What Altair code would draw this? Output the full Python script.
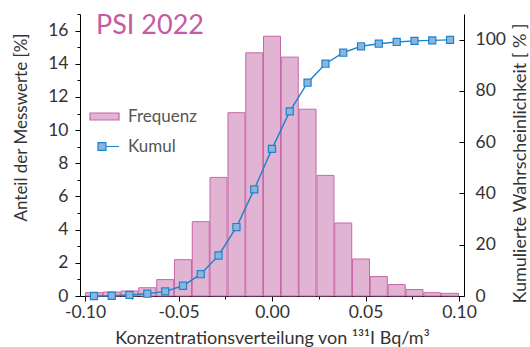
import json
import altair as alt
import pandas as pd

# ---- data ----
centers = [-0.0952, -0.0857, -0.0762, -0.0667, -0.0571, -0.0476, -0.0381,
           -0.0286, -0.0190, -0.0095, 0.0, 0.0095, 0.0190, 0.0286, 0.0381,
           0.0476, 0.0571, 0.0667, 0.0762, 0.0857, 0.0952]
freq = [0.20, 0.24, 0.30, 0.50, 0.99, 2.19, 4.48, 7.15, 11.05, 14.66, 15.66,
        14.40, 11.26, 7.27, 4.40, 2.23, 1.17, 0.69, 0.39, 0.20, 0.16]
kumul = [0.0, 0.1, 0.4, 0.9, 1.8, 4.0, 8.5, 15.8, 26.9, 41.6, 57.4, 72.0,
         83.2, 90.6, 94.9, 97.4, 98.4, 99.1, 99.5, 99.7, 99.9]
series = ["Frequenz", "Kumul"]

x_ticks = [-0.1, -0.075, -0.05, -0.025, 0.0, 0.025, 0.05, 0.075, 0.1]
x_labels = ["-0.10", "", "-0.05", "", "0.00", "", "0.05", "", "0.10"]
yl_ticks = list(range(0, 18))
yr_ticks = list(range(0, 111, 10))

FONT = "Lato"
TXT = "#333333"
PINK_FILL = "#E0B4D2"
PINK_STROKE = "#C866A8"
BLUE = "#1A85CC"
BLUE_FILL = "#8DB4DF"

bars_df = pd.DataFrame({"x": centers, "f": freq, "series": series[0]})
kum_df = pd.DataFrame({"x": centers, "k": kumul, "series": series[1]})

rect_path = "M-1,-0.24H1V0.24H-1Z"
kum_path = "M-0.45,-0.27H0.1V0.27H-0.45Z M0.1,0H1"

leg_scale_fill = alt.Scale(domain=series, range=[PINK_FILL, BLUE_FILL])
leg_scale_stroke = alt.Scale(domain=series, range=[PINK_STROKE, BLUE])
leg_scale_shape = alt.Scale(domain=series, range=[rect_path, kum_path])

legend = alt.Legend(
    title=None, orient="none", legendX=9, legendY=87, symbolSize=841,
    symbolStrokeWidth=1.2, labelFont=FONT, labelFontSize=17,
    labelColor="#555555", labelOffset=8, rowPadding=6, padding=0,
)


def cond_idx(n):
    return {"condition": {"test": f"round(datum.index*{n}) % 2 == 1", "value": 3}, "value": 5}


def cond_val(step):
    return {"condition": {"test": f"round(datum.value/{step}) % 2 == 1", "value": 3}, "value": 5}


x_enc = alt.X(
    "x:Q",
    scale=alt.Scale(domain=[-0.1, 0.1], nice=False, zero=False),
    axis=alt.Axis(
        values=x_ticks, labelExpr=f"{json.dumps(x_labels)}[round(datum.index*8)]",
        tickSize=cond_idx(8),
        title="Konzentrationsverteilung von ¹³¹I Bq/m³", titleFontSize=18,
        titleFont=FONT, titleFontWeight="normal", titleColor=TXT, titlePadding=9,
        labelFont=FONT, labelFontSize=17.5, labelColor=TXT, labelPadding=2,
        domainColor="black", tickColor="black", grid=False, labelFlush=False,
        labelOverlap=False,
    ),
)

bars = alt.Chart(bars_df).mark_bar(size=17, strokeWidth=1).encode(
    x=x_enc,
    y=alt.Y(
        "f:Q", scale=alt.Scale(domain=[0, 17], nice=False),
        axis=alt.Axis(
            values=yl_ticks,
            labelExpr="(round(datum.value) % 2 == 0 && datum.value <= 16) ? datum.label : ''",
            tickSize=cond_val(1),
            title="Anteil der Messwerte [%]", titleFont=FONT, titleFontSize=17,
            titleFontWeight="normal", titleColor=TXT,
            titleX=-59, titleY=113, titleAngle=-90, titleBaseline="middle",
            titleAlign="center",
            labelFont=FONT, labelFontSize=17.5, labelColor=TXT, labelPadding=7,
            domainColor="black", tickColor="black", grid=False,
            labelOverlap=False,
        ),
    ),
    fill=alt.Fill("series:N", scale=leg_scale_fill, legend=legend),
    stroke=alt.Stroke("series:N", scale=leg_scale_stroke, legend=legend),
)

line = alt.Chart(kum_df).mark_line(color=BLUE, strokeWidth=1.4).encode(
    x="x:Q",
    y=alt.Y(
        "k:Q", scale=alt.Scale(domain=[0, 110], nice=False),
        axis=alt.Axis(
            orient="left", offset=-384, values=yr_ticks,
            labelExpr="(round(datum.value) % 20 == 0 && datum.value <= 100) ? datum.label : ''",
            tickSize=cond_val(10), labelAlign="left",
            labelPadding=-16, labelOverlap=False, labelBound=False,
            title="Kumulierte Wahrscheinlichkeit [ % ]", titleFont=FONT,
            titleFontSize=18, titleFontWeight="normal", titleColor=TXT,
            titleX=56, titleY=149, titleAngle=-90, titleBaseline="middle",
            titleAlign="center",
            labelFont=FONT, labelFontSize=17.5, labelColor=TXT,
            domainColor="black", tickColor="black", grid=False,
        ),
    ),
)

points = alt.Chart(kum_df).mark_point(
    filled=True, shape="square", size=50, strokeWidth=1.2, opacity=1,
    fill=BLUE_FILL, stroke=BLUE,
).encode(x="x:Q", y="k:Q")

legend_only = alt.Chart(kum_df).transform_filter("false").mark_point(
    filled=True, strokeWidth=1.2, opacity=1
).encode(
    x="x:Q",
    y="k:Q",
    shape=alt.Shape("series:N", scale=leg_scale_shape, legend=legend),
    fill=alt.Fill("series:N", scale=leg_scale_fill, legend=legend),
    stroke=alt.Stroke("series:N", scale=leg_scale_stroke, legend=legend),
)

chart = alt.layer(bars, alt.layer(line, points, legend_only)).resolve_scale(y="independent").properties(
    width=384, height=282,
    title=alt.TitleParams(
        "PSI 2022", anchor="start", frame="group", fontSize=27, font=FONT,
        fontWeight="normal", color="#C45AA3", dx=16, dy=56, offset=0,
        baseline="alphabetic",
    ),
    autosize=alt.AutoSizeParams(type="none"),
    padding={"left": 80, "top": 14, "right": 66, "bottom": 51},
).configure_view(stroke=None)

chart.save("out.html", embed_options={"renderer": "svg", "actions": False})
